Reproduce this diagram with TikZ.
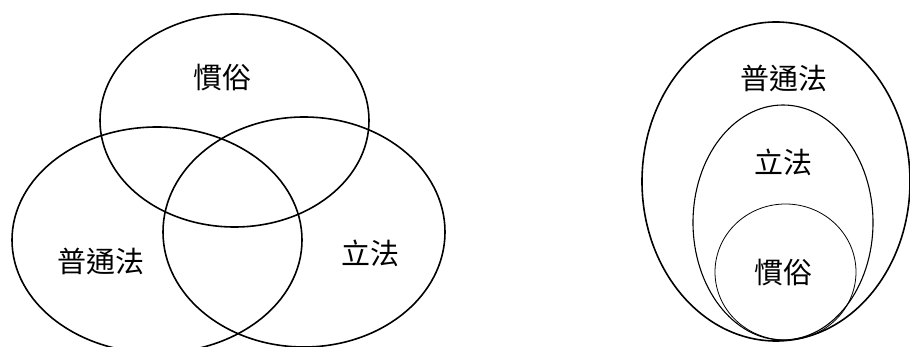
\documentclass[tikz,border=0pt]{standalone}
\usepackage{fontspec}
\newfontfamily\cjk{Noto Sans CJK TC}
\usepackage{tikz}
\usetikzlibrary{positioning,shapes.geometric}
\tikzset{
  venn/.style={ellipse,draw=black,line width=1.6pt,inner sep=0pt},
  nest/.style={ellipse,draw=black,inner sep=0pt},
  lawlbl/.style={font=\cjk\fontsize{29}{30}\selectfont,inner sep=0pt},
}
\begin{document}
\begin{tikzpicture}[x=1pt,y=-1pt]
  \useasboundingbox (0,0) rectangle (910,347);
  % overlapping sources
  \node[venn,minimum width=269pt,minimum height=213pt] (custom) at (234.5,120.5) {};
  \node[venn,minimum width=290pt,minimum height=226pt] (common) at (157,240) {};
  \node[venn,minimum width=282pt,minimum height=230pt] (statute) at (304,232) {};
  \node[lawlbl] (customlbl) at (222,78) {慣俗};
  \node[lawlbl] (commonlbl) at (101,261) {普通法};
  \node[lawlbl] (statutelbl) at (370,253) {立法};
  % nested sources
  \node[nest,line width=1.6pt,minimum width=268pt,minimum height=319pt] (commonout) at (776,181.5) {};
  \node[nest,line width=1.1pt,minimum width=180pt,minimum height=235pt] (statutein) at (783,222.5) {};
  \node[nest,line width=0.8pt,minimum width=141pt,minimum height=136pt] (custominn) at (785.5,272) {};
  \node[lawlbl] (commonoutlbl) at (784,78) {普通法};
  \node[lawlbl] (statuteinlbl) at (783,162) {立法};
  \node[lawlbl] (custominnlbl) at (783,273) {慣俗};
\end{tikzpicture}
\end{document}
